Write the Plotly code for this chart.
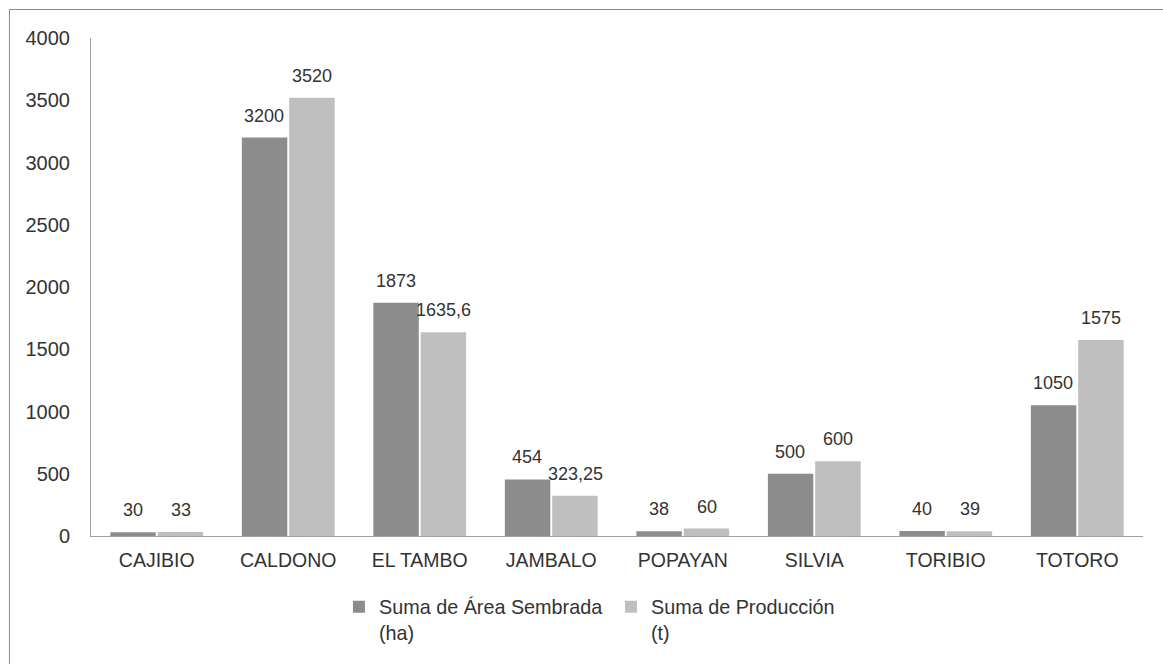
import plotly.graph_objects as go

# Municipios y series
municipios = ["CAJIBIO", "CALDONO", "EL TAMBO", "JAMBALO", "POPAYAN", "SILVIA", "TORIBIO", "TOTORO"]
area_sembrada = [30, 3200, 1873, 454, 38, 500, 40, 1050]
produccion = [33, 3520, 1635.6, 323.25, 60, 600, 39, 1575]
y_ticks = [0, 500, 1000, 1500, 2000, 2500, 3000, 3500, 4000]

serie_area = "Suma de Área Sembrada<br>(ha)"
serie_prod = "Suma de Producción<br>(t)"

COLOR_AREA = "#8c8c8c"
COLOR_PROD = "#bfbfbf"
TEXT = "#333333"
AXIS = "#a0a0a0"
FONT = "Liberation Sans, Arial, sans-serif"


def etiqueta(v):
    # decimal comma, as in the source workbook
    return f"{v:g}".replace(".", ",")


fig = go.Figure()
fig.add_trace(go.Bar(x=municipios, y=area_sembrada, name=serie_area,
                     marker=dict(color=COLOR_AREA, line=dict(width=0))))
fig.add_trace(go.Bar(x=municipios, y=produccion, name=serie_prod,
                     marker=dict(color=COLOR_PROD, line=dict(width=0))))

# value labels above each bar
annotations = []
for serie, shift in ((area_sembrada, -24), (produccion, 24)):
    for m, v in zip(municipios, serie):
        annotations.append(dict(x=m, y=v, xref="x", yref="y", text=etiqueta(v),
                                showarrow=False, xshift=shift, yshift=22,
                                yanchor="middle", xanchor="center",
                                font=dict(family=FONT, size=18, color=TEXT)))

fig.update_layout(
    width=1163, height=664,
    margin=dict(l=91, r=20, t=38, b=128),
    paper_bgcolor="white", plot_bgcolor="white",
    barmode="group", bargap=0.28, bargroupgap=0.04,
    font=dict(family=FONT, size=19, color=TEXT),
    annotations=annotations,
    showlegend=True,
    legend=dict(orientation="h", x=0.2357, xanchor="left", y=-0.103, yanchor="top",
                valign="top", entrywidth=227,
                font=dict(family=FONT, size=19.8, color=TEXT),
                bgcolor="rgba(0,0,0,0)"),
    shapes=[
        # outer chart frame (top and left edges)
        dict(type="line", xref="paper", yref="paper", x0=-0.0775, x1=1.05,
             y0=1.0572, y1=1.0572, line=dict(color="#8c8c8c", width=1)),
        dict(type="line", xref="paper", yref="paper", x0=-0.0775, x1=-0.0775,
             y0=1.0572, y1=-0.3, line=dict(color="#8c8c8c", width=1)),
    ],
)

fig.update_xaxes(showline=True, linecolor=AXIS, linewidth=1, showgrid=False,
                 ticks="", ticklabelstandoff=7,
                 tickfont=dict(family=FONT, size=19.5, color=TEXT))
fig.update_yaxes(range=[0, 4000], tickvals=y_ticks, showline=True, linecolor=AXIS,
                 linewidth=1, showgrid=False, zeroline=False, ticks="",
                 ticklabelstandoff=16,
                 tickfont=dict(family=FONT, size=20, color=TEXT))

fig.write_html("out.html")
